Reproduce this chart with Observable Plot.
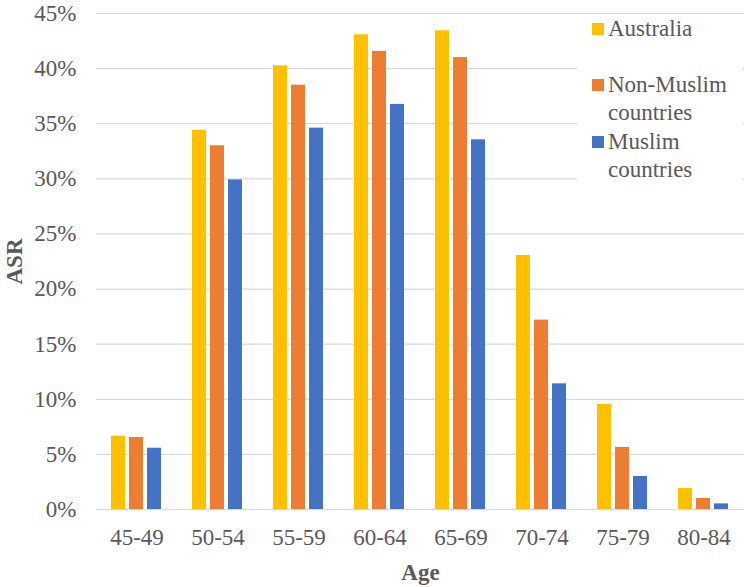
<!DOCTYPE html>
<html>
<head>
<meta charset="utf-8">
<script src="https://cdn.jsdelivr.net/npm/d3@7"></script>
<script src="https://cdn.jsdelivr.net/npm/@observablehq/plot@0.6"></script>
<style>
  body { margin: 0; background: white; }
  #wrap { position: relative; width: 750px; height: 587px; font-family: "Liberation Serif", "Times New Roman", serif; }
  svg g[aria-label$="axis label"] text { font-weight: bold; }
  #legend { position: absolute; left: 577px; top: 15px; width: 165px; height: 170px; background: white; color: #595959; font-size: 23px; line-height: 28px; }
  .item { position: absolute; left: 15px; }
  .sw { position: absolute; left: 0; top: 8px; width: 12px; height: 12px; }
  .lab { position: absolute; left: 16px; top: 0; white-space: nowrap; }
</style>
</head>
<body>
<div id="wrap"><div id="legend"></div></div>
<script>
const ages = ["45-49", "50-54", "55-59", "60-64", "65-69", "70-74", "75-79", "80-84"];
const series = ["Australia", "Non-Muslim countries", "Muslim countries"];
const legendLines = [["Australia"], ["Non-Muslim", "countries"], ["Muslim", "countries"]];
const australia = [6.65, 34.4, 40.25, 43.07, 43.43, 23.05, 9.53, 1.9];
const nonMuslim = [6.53, 33.0, 38.5, 41.56, 41.0, 17.18, 5.63, 1.0];
const muslim = [5.56, 29.9, 34.6, 36.75, 33.54, 11.4, 3.0, 0.51];
const colors = ["#FFC000", "#ED7D31", "#4472C4"];
const yTicks = [0, 5, 10, 15, 20, 25, 30, 35, 40, 45];

const values = [australia, nonMuslim, muslim];
const data = [];
ages.forEach((a, i) => series.forEach((s, j) => data.push({age: a, series: s, value: values[j][i]})));

const chart = Plot.plot({
  width: 750,
  height: 587,
  marginTop: 13,
  marginBottom: 78,
  marginLeft: 95,
  marginRight: 5,
  style: {fontFamily: "'Liberation Serif', 'Times New Roman', serif", fontSize: "23px", color: "#595959", background: "white", overflow: "visible"},
  fx: {domain: ages, padding: 0, axis: "bottom", tickSize: 0, tickPadding: 19, label: "Age", labelAnchor: "center", labelOffset: 70, labelArrow: "none"},
  x: {domain: series, axis: null, paddingInner: 0.215, paddingOuter: 0.85},
  y: {domain: [0, 45], ticks: yTicks, tickFormat: d => d + "%", tickSize: 0, tickPadding: 20, label: "ASR", labelAnchor: "center", labelOffset: 91, labelArrow: "none"},
  color: {domain: series, range: colors},
  marks: [
    Plot.gridY(yTicks, {stroke: "#d9d9d9", strokeOpacity: 1, strokeWidth: 1.2}),
    Plot.barY(data, {fx: "age", x: "series", y: "value", fill: "series"})
  ]
});
document.getElementById("wrap").prepend(chart);

const legend = document.getElementById("legend");
const rowTops = [0, 56, 113];
legendLines.forEach((lines, i) => {
  const it = document.createElement("div");
  it.className = "item";
  it.style.top = rowTops[i] + "px";
  const sw = document.createElement("div");
  sw.className = "sw";
  sw.style.background = colors[i];
  const lab = document.createElement("div");
  lab.className = "lab";
  lab.innerHTML = lines.join("<br>");
  it.appendChild(sw);
  it.appendChild(lab);
  legend.appendChild(it);
});
</script>
</body>
</html>
